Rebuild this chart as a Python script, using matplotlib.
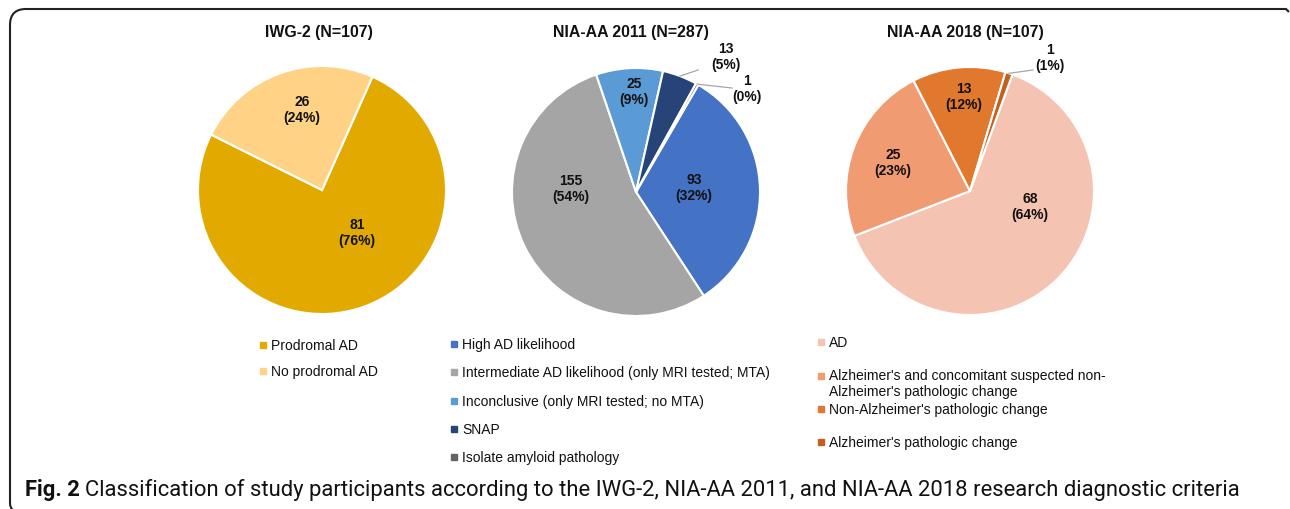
import matplotlib
matplotlib.use("Agg")
import matplotlib.pyplot as plt
import numpy as np
from matplotlib.path import Path
from matplotlib.patches import PathPatch
from matplotlib.lines import Line2D
from matplotlib import font_manager

W, H = 1290, 510

# ---- data -------------------------------------------------------------
iwg_title = "IWG-2 (N=107)"
iwg_labels = ["Prodromal AD", "No prodromal AD"]
iwg_counts = [81, 26]
iwg_colors = ["#E2AA00", "#FFD286"]

nia11_title = "NIA-AA 2011 (N=287)"
nia11_labels = ["High AD likelihood",
                "Intermediate AD likelihood (only MRI tested; MTA)",
                "Inconclusive (only MRI tested; no MTA)",
                "SNAP",
                "Isolate amyloid pathology"]
nia11_counts = [93, 155, 25, 13, 1]
nia11_colors = ["#4472C4", "#A5A5A5", "#5B9BD5", "#264478", "#636363"]

nia18_title = "NIA-AA 2018 (N=107)"
nia18_labels = ["AD",
                "Alzheimer's and concomitant suspected non-\nAlzheimer's pathologic change",
                "Non-Alzheimer's pathologic change",
                "Alzheimer's pathologic change"]
nia18_counts = [68, 25, 13, 1]
nia18_colors = ["#F5C3B1", "#F09B71", "#E0782E", "#C4601F"]

caption_bold = "Fig. 2"
caption_rest = ("Classification of study participants according to the IWG-2, "
                "NIA-AA 2011, and NIA-AA 2018 research diagnostic criteria")

# ---- layout (pixels, y down) -----------------------------------------
R = 1.24  # pie radius, 1 unit = 100 px
pies = [
    dict(title=iwg_title, labels=iwg_labels, counts=iwg_counts, colors=iwg_colors,
         center=(322, 191), start=66.0, title_x=319,
         lab_pos=[(0.35, -0.42), (-0.20, 0.81)],
         leader=[None, None],
         leg_mark=263, leg_text=271, leg_y=[346, 372]),
    dict(title=nia11_title, labels=nia11_labels, counts=nia11_counts, colors=nia11_colors,
         center=(636, 193), start=59.8, title_x=631,
         lab_pos=[(0.58, 0.05), (-0.65, 0.04), (-0.02, 1.01), (0.90, 1.36), (1.11, 1.04)],
         leader=[None, None, None, (0.62, 1.22), (0.96, 1.04)],
         leg_mark=454, leg_text=462, leg_y=[345, 373, 402, 430, 458]),
    dict(title=nia18_title, labels=nia18_labels, counts=nia18_counts, colors=nia18_colors,
         center=(970, 192), start=70.0, title_x=965,
         lab_pos=[(0.60, -0.15), (-0.77, 0.29), (-0.06, 0.95), (0.80, 1.34)],
         leader=[None, None, None, (0.63, 1.21)],
         leg_mark=821, leg_text=829, leg_y=[343, 377, 410, 443]),
]

FONT = "Liberation Sans"

# caption font: narrow if we have it
names = {f.name for f in font_manager.fontManager.ttflist}
CAP_FONT = "Liberation Sans Narrow" if "Liberation Sans Narrow" in names else "Roboto"


def fx(x):
    return x / W


def fy(y):
    return 1 - y / H


fig = plt.figure(figsize=(W / 100, H / 100), dpi=100)
fig.patch.set_facecolor("white")

for p in pies:
    cx, cy = p["center"]
    ax = fig.add_axes([fx(cx - 150), fy(cy + 150), 300 / W, 300 / H])
    wedges, _ = ax.pie(p["counts"], colors=p["colors"], radius=R,
                       startangle=p["start"], counterclock=False,
                       wedgeprops=dict(edgecolor="white", linewidth=1.5))
    ax.set_xlim(-1.5, 1.5)
    ax.set_ylim(-1.5, 1.5)
    ax.axis("off")

    total = sum(p["counts"])
    for i, (w, n) in enumerate(zip(wedges, p["counts"])):
        lx, ly = p["lab_pos"][i]
        if p["leader"][i] is not None:
            mid = np.deg2rad((w.theta1 + w.theta2) / 2)
            ex, ey = p["leader"][i]
            ax.plot([R * np.cos(mid), ex], [R * np.sin(mid), ey],
                    color="#A6A6A6", lw=0.9, clip_on=False)
        ax.text(lx, ly, f"{n}\n({round(100 * n / total)}%)", ha="center", va="center",
                fontsize=10, fontweight="bold", family=FONT, linespacing=1.1,
                color="#111111")

    fig.text(fx(p["title_x"]), fy(33), p["title"], ha="center", va="center",
             fontsize=11.4, fontweight="bold", family=FONT, color="#111111")

    # legend drawn by hand (uneven row spacing in the original)
    for lab, col, y in zip(p["labels"], p["colors"], p["leg_y"]):
        fig.add_artist(Line2D([fx(p["leg_mark"])], [fy(y)], marker="s",
                              markersize=4.2, color=col, linestyle="none",
                              transform=fig.transFigure))
        if "\n" in lab:
            fig.text(fx(p["leg_text"]), fy(y - 8), lab, ha="left", va="top",
                     fontsize=10, family=FONT, color="#111111", linespacing=1.15)
        else:
            fig.text(fx(p["leg_text"]), fy(y), lab, ha="left", va="center",
                     fontsize=10, family=FONT, color="#111111")

# frame: left + top edges with rounded corner
verts = [(13, 511), (10, 509), (10, 504), (10, 26), (10, 10), (26, 10),
         (1286, 10), (1289, 13)]
codes = [Path.MOVETO, Path.CURVE3, Path.CURVE3, Path.LINETO, Path.CURVE3, Path.CURVE3,
         Path.LINETO, Path.LINETO]
frame = Path([(fx(x), fy(y)) for x, y in verts], codes)
fig.add_artist(PathPatch(frame, facecolor="none", edgecolor="#222222", lw=1.5,
                         transform=fig.transFigure))

# caption, fitted to width
fig.canvas.draw()
r = fig.canvas.get_renderer()
size = 13.0
t1 = fig.text(fx(25), fy(496), caption_bold, fontsize=size, fontweight="bold",
              family=CAP_FONT, va="baseline", ha="left", color="#111111")
t2 = fig.text(0, fy(496), caption_rest, fontsize=size, family=CAP_FONT,
              va="baseline", ha="left", color="#111111")
target = 1213
w1 = t1.get_window_extent(r).width
w2 = t2.get_window_extent(r).width
gap = size * 0.3
size = size * target / (w1 + w2 + gap)
t1.set_fontsize(size)
t2.set_fontsize(size)
fig.canvas.draw()
w1 = t1.get_window_extent(r).width
t2.set_x(fx(25 + w1 + size * 0.35))

fig.savefig("out.png", dpi=100, facecolor="white")
